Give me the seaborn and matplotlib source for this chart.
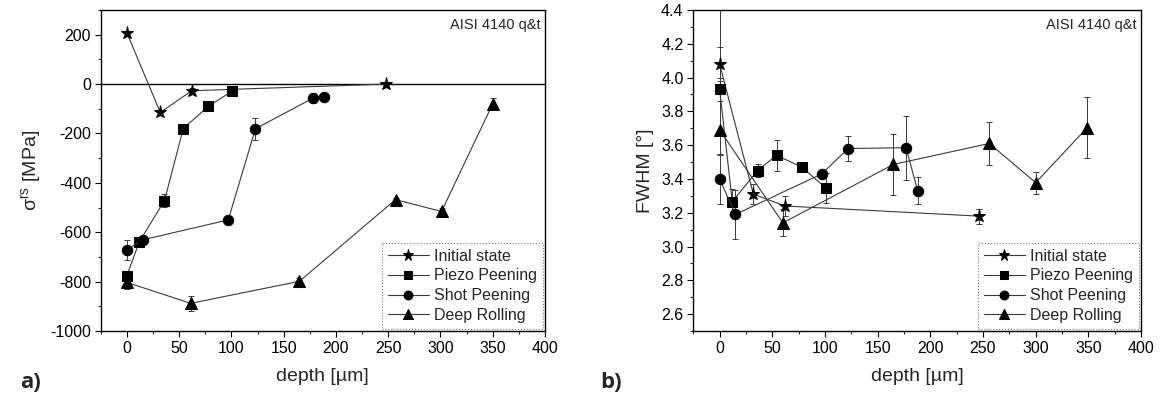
import numpy as np
import pandas as pd
import matplotlib
matplotlib.use("Agg")
import matplotlib.pyplot as plt
from matplotlib.ticker import MultipleLocator, FormatStrFormatter
import seaborn as sns

# ---- residual stress (panel a) ----
init_depth_a = [0, 32, 62, 248]
init_rs = [208, -115, -27, 0]
init_rs_err = [6, 10, 10, 6]

piezo_depth_a = [0, 12, 36, 54, 78, 101]
piezo_rs = [-776, -638, -472, -180, -90, -28]
piezo_rs_err = [20, 15, 25, 10, 15, 10]

shot_depth_a = [0, 15, 97, 123, 178, 189]
shot_rs = [-671, -631, -550, -181, -57, -54]
shot_rs_err = [40, 15, 15, 45, 20, 10]

roll_depth_a = [0, 61, 165, 257, 301, 350]
roll_rs = [-803, -888, -799, -468, -516, -80]
roll_rs_err = [25, 30, 15, 8, 15, 25]

# ---- FWHM (panel b) ----
init_depth_b = [0, 32, 62, 246]
init_fwhm = [4.08, 3.31, 3.24, 3.18]
init_fwhm_err = [0.10, 0.06, 0.06, 0.045]

piezo_depth_b = [0, 12, 36, 54, 78, 101]
piezo_fwhm = [3.93, 3.265, 3.45, 3.54, 3.47, 3.345]
piezo_fwhm_err = [0.07, 0.075, 0.04, 0.09, 0.01, 0.09]

shot_depth_b = [0, 15, 97, 122, 177, 188]
shot_fwhm = [3.40, 3.19, 3.43, 3.58, 3.585, 3.33]
shot_fwhm_err = [0.15, 0.145, 0.02, 0.075, 0.19, 0.08]

roll_depth_b = [0, 60, 165, 256, 300, 349]
roll_fwhm = [3.69, 3.14, 3.486, 3.61, 3.378, 3.704]
roll_fwhm_err_lo = [0.15, 0.08, 0.18, 0.13, 0.065, 0.18]
roll_fwhm_err_hi = [0.80, 0.08, 0.18, 0.13, 0.065, 0.18]

labels = ["Initial state", "Piezo Peening", "Shot Peening", "Deep Rolling"]
markers = ["*", "s", "o", "^"]
msizes = [9.5, 6.5, 7.5, 8]

sns.set_theme(style="ticks")
plt.rcParams["font.family"] = ["Liberation Sans", "DejaVu Sans"]
plt.rcParams["mathtext.default"] = "regular"
plt.rcParams["axes.unicode_minus"] = False

fig = plt.figure(figsize=(11.63, 4.0), dpi=100)
ax_a = fig.add_axes([100.7 / 1163, 69 / 400, 444.3 / 1163, 321 / 400])
ax_b = fig.add_axes([693.3 / 1163, 69 / 400, 447.7 / 1163, 321 / 400])

line_col = "#3a3a3a"


def draw_series(ax, x, y, yerr, label, marker, ms):
    df = pd.DataFrame({"depth": x, "val": y})
    sns.lineplot(data=df, x="depth", y="val", sort=False, estimator=None,
                 errorbar=None, marker=marker, markersize=ms, color=line_col,
                 markerfacecolor="black", markeredgecolor="black",
                 linewidth=0.8, label=label, ax=ax, zorder=3)
    ax.errorbar(x, y, yerr=yerr, fmt="none", ecolor=line_col,
                elinewidth=0.7, capsize=2.5, capthick=0.7, zorder=2)


series_a = [
    (init_depth_a, init_rs, init_rs_err),
    (piezo_depth_a, piezo_rs, piezo_rs_err),
    (shot_depth_a, shot_rs, shot_rs_err),
    (roll_depth_a, roll_rs, roll_rs_err),
]
series_b = [
    (init_depth_b, init_fwhm, init_fwhm_err),
    (piezo_depth_b, piezo_fwhm, piezo_fwhm_err),
    (shot_depth_b, shot_fwhm, shot_fwhm_err),
    (roll_depth_b, roll_fwhm, [roll_fwhm_err_lo, roll_fwhm_err_hi]),
]

for (x, y, e), lab, m, ms in zip(series_a, labels, markers, msizes):
    draw_series(ax_a, x, y, e, lab, m, ms)
for (x, y, e), lab, m, ms in zip(series_b, labels, markers, msizes):
    draw_series(ax_b, x, y, e, lab, m, ms)

ax_a.axhline(0, color="black", linewidth=1.0, zorder=1)

ax_a.set_xlim(-25, 400)
ax_a.set_ylim(-1000, 300)
ax_a.set_yticks(np.arange(-1000, 201, 200))
ax_a.yaxis.set_minor_locator(MultipleLocator(100))
ax_a.set_ylabel("σ$^{rs}$ [MPa]", fontsize=14, labelpad=5)

ax_b.set_xlim(-25, 400)
ax_b.set_ylim(2.5, 4.4)
ax_b.set_yticks(np.round(np.arange(2.6, 4.41, 0.2), 1))
ax_b.yaxis.set_minor_locator(MultipleLocator(0.1))
ax_b.yaxis.set_major_formatter(FormatStrFormatter("%.1f"))
ax_b.set_ylabel("FWHM [°]", fontsize=14, labelpad=5)

for ax in (ax_a, ax_b):
    ax.set_xticks(np.arange(0, 401, 50))
    ax.xaxis.set_minor_locator(MultipleLocator(25))
    ax.set_xlabel("depth [µm]", fontsize=14, labelpad=9)
    ax.tick_params(axis="both", which="major", direction="out", length=4,
                   width=0.8, labelsize=11.5, colors="black", pad=3)
    ax.tick_params(axis="both", which="minor", direction="out", length=2.5,
                   width=0.8)
    ax.tick_params(top=False, right=False, which="both")
    for sp in ax.spines.values():
        sp.set_visible(True)
        sp.set_color("black")
        sp.set_linewidth(1.0)
    ax.text(0.99, 0.975, "AISI 4140 q&t", transform=ax.transAxes,
            ha="right", va="top", fontsize=10.5)
    leg = ax.legend(loc="lower right", fontsize=11.5, frameon=True,
                    fancybox=False, borderaxespad=0.15, handlelength=2.6,
                    handletextpad=0.3, labelspacing=0.3, borderpad=0.35,
                    markerscale=0.85)
    leg.get_frame().set_edgecolor("#555555")
    leg.get_frame().set_linestyle(":")
    leg.get_frame().set_linewidth(0.8)

fig.text(20 / 1163, 1 - 383 / 400, "a)", fontsize=16, fontweight="bold",
         ha="left", va="center", family=["Open Sans", "DejaVu Sans"])
fig.text(600 / 1163, 1 - 383 / 400, "b)", fontsize=16, fontweight="bold",
         ha="left", va="center", family=["Open Sans", "DejaVu Sans"])

fig.savefig("out.png", dpi=100, facecolor="white")
